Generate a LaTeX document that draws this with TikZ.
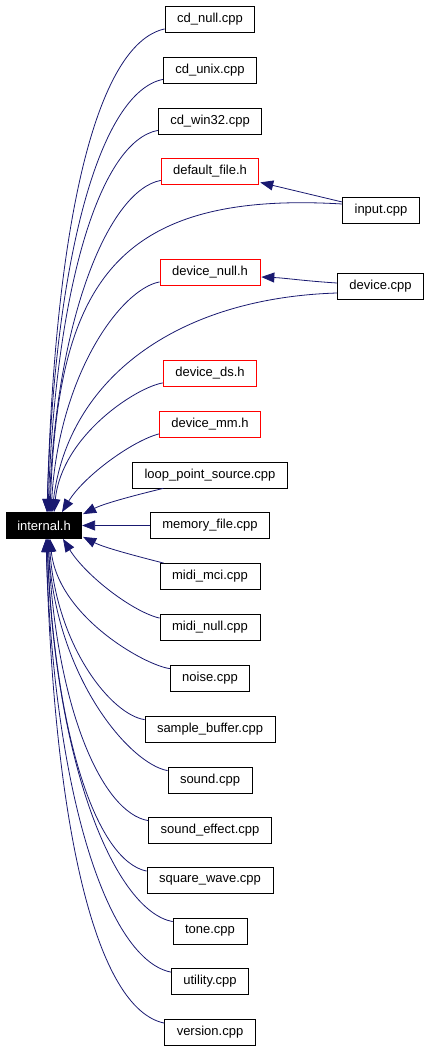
\documentclass[tikz,border=0pt]{standalone}
\usepackage{fontspec}
\setmainfont{Liberation Sans}
\usetikzlibrary{calc}
\usetikzlibrary{arrows.meta}
\definecolor{edgeblue}{RGB}{25,25,112}

\begin{document}
\begin{tikzpicture}[x=1pt, y=-1pt,
    every node/.style={font=\fontsize{13}{15}\selectfont},
    filebox/.style={draw=black, line width=0.8pt, fill=white, minimum height=26pt, inner xsep=12pt, inner ysep=0pt},
    hdrbox/.style={filebox, draw=red},
    dep/.style={draw=edgeblue, line width=0.8pt, -{Triangle[length=13pt,width=10pt]}}]
    \useasboundingbox (0,0) rectangle (429,1051);
    % files in the middle column
    \foreach \n/\lab/\y in {cdnull/cd\_null.cpp/19.5, cdunix/cd\_unix.cpp/70, cdwin/cd\_win32.cpp/121,
        lps/loop\_point\_source.cpp/475, memfile/memory\_file.cpp/525.5, midimci/midi\_mci.cpp/576.5,
        midinull/midi\_null.cpp/627.5, noise/noise.cpp/678, sbuf/sample\_buffer.cpp/729, sound/sound.cpp/780,
        sfx/sound\_effect.cpp/830, sqwave/square\_wave.cpp/880.5, tone/tone.cpp/931,
        utility/utility.cpp/981.5, version/version.cpp/1032.5} {
        \node[filebox] (\n) at (210,\y) {\lab};
    }
    \foreach \n/\lab/\y in {dfile/default\_file.h/171, devnull/device\_null.h/272.5,
        devds/device\_ds.h/373.5, devmm/device\_mm.h/424.5} {
        \node[hdrbox] (\n) at (210,\y) {\lab};
    }
    \node[filebox] (input) at (381,210) {input.cpp};
    \node[filebox] (device) at (380.5,286) {device.cpp};
    \node[filebox, fill=black, text=white, inner xsep=11pt] (internal) at (44,525.5) {internal.h};
    % upper edges
    \foreach \n/\ax/\ay/\bx/\by/\s in {cdnull/96/44/55/222/3, cdunix/101/92/55/252/3, cdwin/101/141/56/283/4,
        dfile/110/190/57/313/5, devnull/121/289/59/374/7, devds/137/387/62/435/10, devmm/132/441/84/476/18} {
        \draw[dep] ($(\n.south west)+(0,-4)$) .. controls (\ax,\ay) and (\bx,\by) .. ([xshift=\s pt]internal.north);
    }
    % lower edges
    \foreach \n/\ax/\ay/\bx/\by/\s in {midinull/133/612/86/576/19, noise/144/665/58/616/6, sbuf/112/715/57/648/5,
        sound/130/764/56/678/4, sfx/102/813/56/708/4, sqwave/97/861/55/738/3, tone/116/911/55/768/3,
        utility/109/960/54/799/2, version/96/1009/54/829/2} {
        \draw[dep] ($(\n.north west)+(0,4)$) .. controls (\ax,\ay) and (\bx,\by) .. ([xshift=\s pt]internal.south);
    }
    \draw[dep] ($(input.west)+(0,-6)$) .. controls (110,190) and (58,290) .. ([xshift=6pt]internal.north);
    \draw[dep] ($(input.west)+(0,-8)$) -- ($(dfile.south east)+(1,-2)$);
    \draw[dep] ($(device.west)+(0,7)$) .. controls (175,298) and (68,380) .. ([xshift=8pt]internal.north);
    \draw[dep] ($(device.west)+(0,-3)$) .. controls (305,281) and (285,278) .. ($(devnull.east)+(1,4.5)$);
    \draw[dep] ($(lps.south west)+(31,0)$) .. controls (140,494) and (105,503) .. ($(internal.north east)+(1,2)$);
    \draw[dep] (memfile) -- (internal);
    \draw[dep] ($(midimci.north west)+(4,0)$) .. controls (140,557) and (105,548) .. ($(internal.south east)+(1,-2)$);
\end{tikzpicture}
\end{document}
